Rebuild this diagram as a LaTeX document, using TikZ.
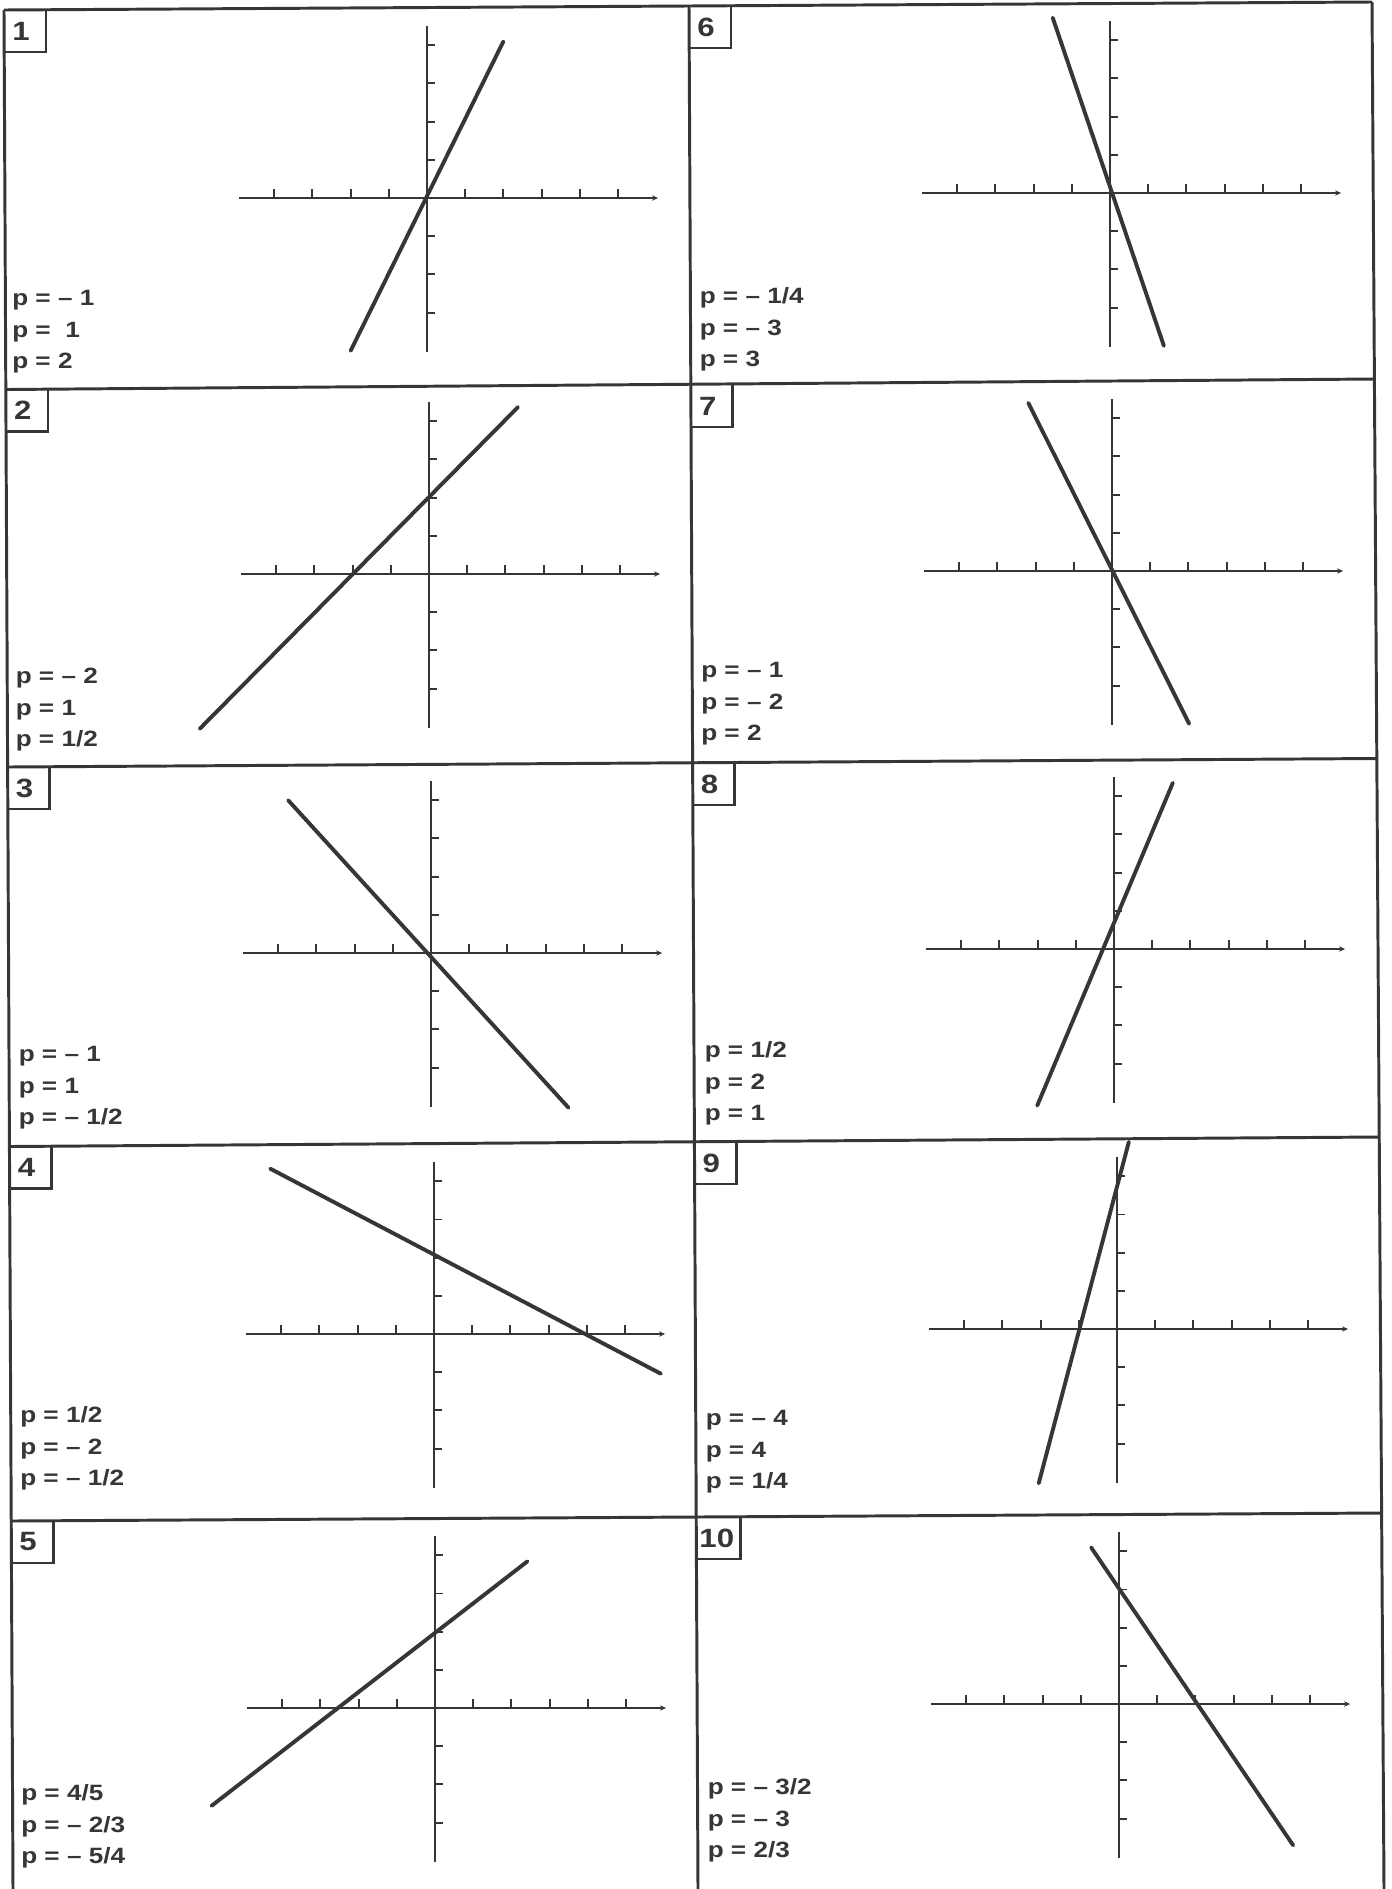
\documentclass[tikz,border=0pt]{standalone}
\usepackage{fontspec}
\usepackage{tikz}
\usetikzlibrary{arrows.meta}

\newfontfamily\plotfont[FakeStretch=1.18]{Liberation Sans}
\definecolor{ink}{HTML}{363636}

\tikzset{
	frame/.style={ink, line width=2.2pt},
	boxline/.style={ink, line width=2pt},
	xaxis/.style={ink, line width=1.8pt, -{Stealth[length=4.5pt,width=4pt]}},
	yaxis/.style={ink, line width=1.4pt},
	tickmark/.style={ink, line width=1.4pt},
	graph/.style={ink, line width=2.9pt, line cap=round},
	num/.style={ink, inner sep=0pt, anchor=west, font=\plotfont\bfseries\fontsize{19.7}{20}\selectfont},
	plabel/.style={ink, inner sep=0pt, anchor=south west, text depth=0pt, align=left, font=\plotfont\bfseries\fontsize{16.5}{23.5}\selectfont}
}

\newcommand{\drawaxes}{%
	\draw[xaxis] (-4.92,0) -- (6.05,0);
	\draw[yaxis] (0,-4.02) -- (0,4.5);
	\foreach \t in {-4,-3,-2,-1,1,2,3,4,5} \draw[tickmark] (\t,0) -- (\t,0.24);
	\foreach \t in {-3,-2,-1,1,2,3,4} \draw[tickmark] (0,\t) -- (0.21,\t);
}

\begin{document}
\begin{tikzpicture}[x=0.026178cm, y=-0.026178cm]

        \fill[white] (0,0) rectangle (1392,1889);
        \useasboundingbox (0,0) rectangle (1392,1889);

        \draw[frame] (4,10) -- (13,1889);
        \draw[frame] (689,6) -- (698,1889);
        \draw[frame] (1372,2) -- (1384,1889);
        \draw[frame] (4,10) -- (1372,2);
        \draw[frame] (5.9,389.5) -- (1374.4,379);
        \draw[frame] (7.7,767) -- (1376.8,758.5);
        \draw[frame] (9.5,1146.5) -- (1379.2,1137);
        \draw[frame] (11.2,1521) -- (1381.6,1513);

        \draw[boxline] (4,52) -| (46,10);
        \draw[boxline] (5.9,431.5) -| (47.9,389.5);
        \draw[boxline] (7.7,809) -| (49.7,767);
        \draw[boxline] (9.5,1188.5) -| (51.5,1146.5);
        \draw[boxline] (11.2,1563) -| (53.2,1521);
        \draw[boxline] (689,48) -| (731,6);
        \draw[boxline] (690.8,427) -| (732.8,385);
        \draw[boxline] (692.6,805) -| (734.6,763);
        \draw[boxline] (694.4,1184) -| (736.4,1142);
        \draw[boxline] (696.2,1559) -| (740.2,1517);

        \node[num] (n1) at (12,31) {1};
        \node[num] (n2) at (13.9,410.5) {2};
        \node[num] (n3) at (15.7,788) {3};
        \node[num] (n4) at (17.5,1167.5) {4};
        \node[num] (n5) at (19.2,1542) {5};
        \node[num] (n6) at (697,27) {6};
        \node[num] (n7) at (698.8,406) {7};
        \node[num] (n8) at (700.6,784) {8};
        \node[num] (n9) at (702.4,1163) {9};
        \node[num] (n10) at (699.2,1538) {10};

        \node[plabel] (p1) at (12,369) {p = – 1\\p =~~1\\p = 2};
        \node[plabel] (p2) at (15.5,747) {p = – 2\\p = 1\\p = 1/2};
        \node[plabel] (p3) at (18.5,1125) {p = – 1\\p = 1\\p = – 1/2};
        \node[plabel] (p4) at (20,1486) {p = 1/2\\p = – 2\\p = – 1/2};
        \node[plabel] (p5) at (21,1864) {p = 4/5\\p = – 2/3\\p = – 5/4};
        \node[plabel] (p6) at (699.5,367) {p = – 1/4\\p = – 3\\p = 3};
        \node[plabel] (p7) at (701,741) {p = – 1\\p = – 2\\p = 2};
        \node[plabel] (p8) at (704.5,1121) {p = 1/2\\p = 2\\p = 1};
        \node[plabel] (p9) at (705.5,1489) {p = – 4\\p = 4\\p = 1/4};
        \node[plabel] (p10) at (707.5,1858) {p = – 3/2\\p = – 3\\p = 2/3};

        \begin{scope}[shift={(427,198)}, x=1cm, y=1cm]
            \drawaxes
            \draw[graph] (-2,-4) -- (2,4.1);
        \end{scope}
        \begin{scope}[shift={(429,574)}, x=1cm, y=1cm]
            \drawaxes
            \draw[graph] (-6,-4.05) -- (2.33,4.37);
        \end{scope}
        \begin{scope}[shift={(431,953)}, x=1cm, y=1cm]
            \drawaxes
            \draw[graph] (-3.74,4) -- (3.6,-4.05);
        \end{scope}
        \begin{scope}[shift={(434,1334)}, x=1cm, y=1cm]
            \drawaxes
            \draw[graph] (-4.29,4.33) -- (5.94,-1.04);
        \end{scope}
        \begin{scope}[shift={(435,1708)}, x=1cm, y=1cm]
            \drawaxes
            \draw[graph] (-5.85,-2.56) -- (2.42,3.84);
        \end{scope}

        \begin{scope}[shift={(1110,193)}, x=1cm, y=1cm]
            \drawaxes
            \draw[graph] (-1.5,4.59) -- (1.41,-4);
        \end{scope}
        \begin{scope}[shift={(1112,571)}, x=1cm, y=1cm]
            \drawaxes
            \draw[graph] (-2.19,4.4) -- (2.02,-4);
        \end{scope}
        \begin{scope}[shift={(1114,949)}, x=1cm, y=1cm]
            \drawaxes
            \draw[graph] (-2.01,-4.1) -- (1.54,4.35);
        \end{scope}
        \begin{scope}[shift={(1117,1329)}, x=1cm, y=1cm]
            \drawaxes
            \draw[graph] (-2.05,-4.04) -- (0.31,4.9);
        \end{scope}
        \begin{scope}[shift={(1119,1704)}, x=1cm, y=1cm]
            \drawaxes
            \draw[graph] (-0.73,4.1) -- (4.56,-3.7);
        \end{scope}

    \end{tikzpicture}
\end{document}
